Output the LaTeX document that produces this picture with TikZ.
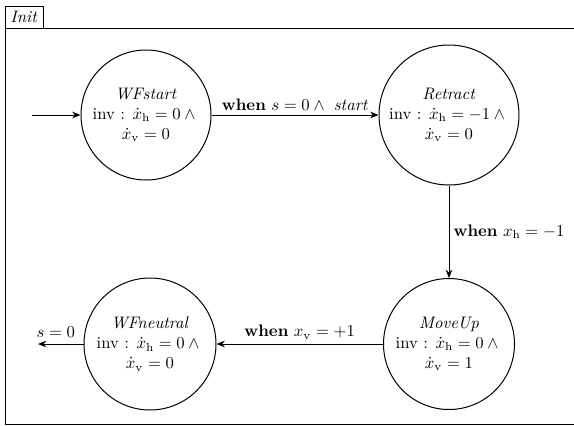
\documentclass[tikz,border=0pt]{standalone}
\usetikzlibrary{arrows.meta}
\begin{document}
\begin{tikzpicture}[x=0.6pt,y=-0.6pt,
  state/.style={draw,circle,inner sep=0pt,align=center,line width=0.6pt},
  trans/.style={-{Stealth[length=5pt,width=4pt]},line width=0.6pt},
  lbl/.style={inner sep=2.5pt}]
  \useasboundingbox (0,0) rectangle (574,426);
  % enclosing frame with its tab
  \begin{scope}
    \clip (0,0) rectangle (574,426);
    \draw[line width=0.6pt] (5,28) rectangle (590,424);
  \end{scope}
  \node[draw,line width=0.6pt,minimum width=38*0.6pt,minimum height=22*0.6pt,inner sep=0pt] (init) at (24,17) {\textit{Init}};

  % states
  \node[state,minimum size=130*0.6pt] (wfs) at (146,115)
    {\textit{WFstart}\\ inv : $\dot{x}_{\mathrm{h}} = 0 \wedge{}$\\ $\dot{x}_{\mathrm{v}} = 0$};
  \node[state,minimum size=140*0.6pt] (ret) at (449,115)
    {\textit{Retract}\\ inv : $\dot{x}_{\mathrm{h}} = -1 \wedge{}$\\ $\dot{x}_{\mathrm{v}} = 0$};
  \node[state,minimum size=131*0.6pt] (mu) at (449,344)
    {\textit{MoveUp}\\ inv : $\dot{x}_{\mathrm{h}} = 0 \wedge{}$\\ $\dot{x}_{\mathrm{v}} = 1$};
  \node[state,minimum size=132*0.6pt] (wfn) at (150,344)
    {\textit{WFneutral}\\ inv : $\dot{x}_{\mathrm{h}} = 0 \wedge{}$\\ $\dot{x}_{\mathrm{v}} = 0$};

  \coordinate (in) at (32,115);
  \coordinate (out) at (38,344);

  % transitions
  \draw[trans] (in) -- (wfs);
  \draw[trans] (wfs) -- node[lbl,above] {\textbf{when} $s = 0 \wedge{}$ \textit{start}} (ret);
  \draw[trans] (ret) -- node[lbl,right] {\textbf{when} $x_{\mathrm{h}} = -1$} (mu);
  \draw[trans] (mu) -- node[lbl,above] {\textbf{when} $x_{\mathrm{v}} = +1$} (wfn);
  \draw[trans] (wfn) -- node[above,inner sep=3.5pt,xshift=-3pt] {$s = 0$} (out);
\end{tikzpicture}
\end{document}
